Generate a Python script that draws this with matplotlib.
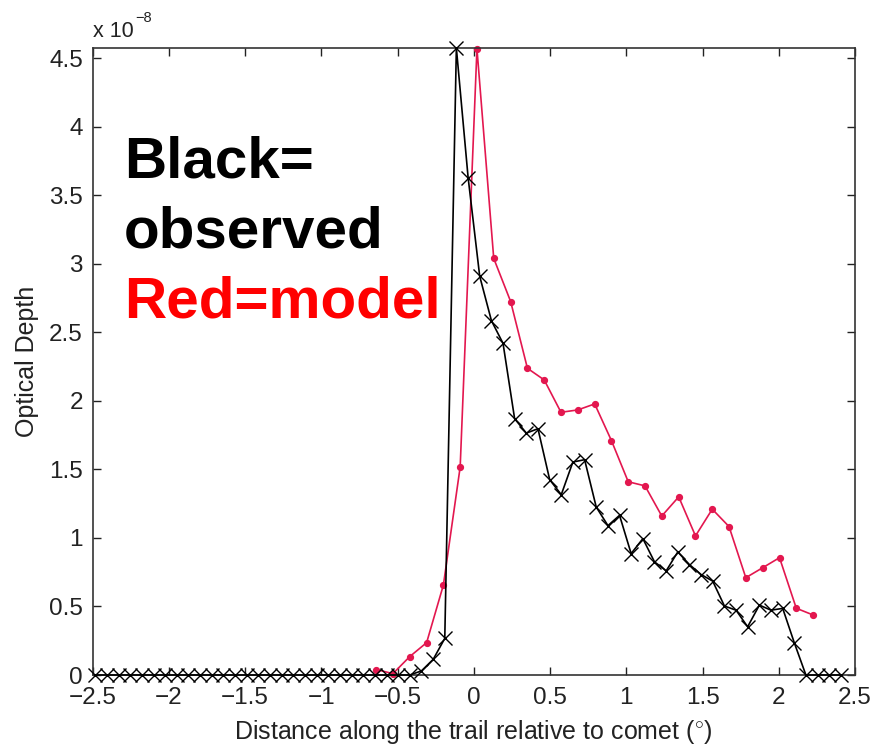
import matplotlib
matplotlib.use("Agg")
import matplotlib.pyplot as plt

plt.rcParams['font.family'] = ['Liberation Sans', 'DejaVu Sans']
plt.rcParams['mathtext.fontset'] = 'custom'
plt.rcParams['mathtext.rm'] = 'Liberation Sans'

# Observed optical depth (units of 1e-8), black crosses
obs_x = [-2.482, -2.406, -2.329, -2.253, -2.176, -2.100, -2.024, -1.947, -1.871, -1.794,
         -1.718, -1.642, -1.565, -1.489, -1.412, -1.336, -1.260, -1.183, -1.107, -1.030,
         -0.954, -0.878, -0.801, -0.725, -0.648, -0.572, -0.496, -0.419, -0.343, -0.266,
         -0.190, -0.114, -0.037, 0.039, 0.116, 0.192, 0.268, 0.345, 0.421, 0.498,
         0.574, 0.650, 0.727, 0.803, 0.880, 0.956, 1.032, 1.109, 1.185, 1.262,
         1.338, 1.414, 1.491, 1.567, 1.644, 1.720, 1.796, 1.873, 1.949, 2.026,
         2.102, 2.178, 2.255, 2.331, 2.408]
obs_y = [0, 0, 0, 0, 0, 0, 0, 0, 0, 0,
         0, 0, 0, 0, 0, 0, 0, 0, 0, 0,
         0, 0, 0, 0, 0, 0, 0, 0, 0.03, 0.114,
         0.267, 4.575, 3.63, 2.91, 2.585, 2.42, 1.87, 1.765, 1.797, 1.425,
         1.316, 1.554, 1.571, 1.226, 1.09, 1.165, 0.886, 0.995, 0.826, 0.76,
         0.898, 0.806, 0.733, 0.685, 0.503, 0.473, 0.352, 0.51, 0.473, 0.486,
         0.235, 0, 0, 0, 0]

# Model optical depth (units of 1e-8), red dots
mod_x = [-0.640, -0.530, -0.420, -0.309, -0.199, -0.089, 0.021, 0.131, 0.242, 0.352,
         0.462, 0.572, 0.682, 0.793, 0.903, 1.013, 1.123, 1.233, 1.344, 1.454,
         1.564, 1.674, 1.784, 1.895, 2.005, 2.115, 2.225]
mod_y = [0.04, 0.01, 0.134, 0.236, 0.657, 1.518, 4.57, 3.04, 2.725, 2.238,
         2.153, 1.917, 1.934, 1.978, 1.71, 1.41, 1.38, 1.16, 1.30, 1.015,
         1.21, 1.083, 0.71, 0.783, 0.856, 0.487, 0.438]

xticks = [-2.5, -2, -1.5, -1, -0.5, 0, 0.5, 1, 1.5, 2, 2.5]
xticklabels = ['\u22122.5', '\u22122', '\u22121.5', '\u22121', '\u22120.5', '0', '0.5', '1', '1.5', '2', '2.5']
yticks = [0, 0.5, 1, 1.5, 2, 2.5, 3, 3.5, 4, 4.5]
yticklabels = ['0', '0.5', '1', '1.5', '2', '2.5', '3', '3.5', '4', '4.5']

fig = plt.figure(figsize=(8.73, 7.5), dpi=100)
ax = fig.add_axes([92.5/873, 0.1, (855-92.5)/873, (675-48)/750])

ax.plot(mod_x, mod_y, '-', color='#e3174f', lw=1.2, marker='o', ms=4.2,
        mfc='#e3174f', mec='#e3174f', clip_on=False, zorder=2)
ax.plot(obs_x, obs_y, '-', color='black', lw=1.2, marker='x', ms=9.5, mew=1.0,
        clip_on=False, zorder=3)

ax.set_xlim(-2.5, 2.5)
ax.set_ylim(0, 4.575)
ax.set_xticks(xticks)
ax.set_xticklabels(xticklabels)
ax.set_yticks(yticks)
ax.set_yticklabels(yticklabels)
ax.tick_params(direction='in', length=6, width=1, top=True, right=True,
               labelsize=17.5, colors='#222222', pad=7)
ax.tick_params(axis='x', pad=9)
for s in ax.spines.values():
    s.set_linewidth(1.2)
    s.set_color('#333333')

ax.set_xlabel('Distance along the trail relative to comet ($^{\\circ}$)', fontsize=18,
              color='#222222', labelpad=6)
ax.set_ylabel('Optical Depth', fontsize=18, color='#222222', labelpad=7)

fig.text(93/873, 1 - 37/750, 'x 10', fontsize=15.5, color='#222222', va='baseline')
fig.text(135/873, 1 - 22/750, '\u22128', fontsize=10.5, color='#222222', va='baseline')

fig.text(124/873, 1 - 177/750, 'Black=', fontsize=42, fontweight='bold', color='black', va='baseline')
fig.text(124/873, 1 - 248/750, 'observed', fontsize=42, fontweight='bold', color='black', va='baseline')
fig.text(124/873, 1 - 318/750, 'Red=model', fontsize=42, fontweight='bold', color='#ff0000', va='baseline')

fig.savefig('out.png', dpi=100)
